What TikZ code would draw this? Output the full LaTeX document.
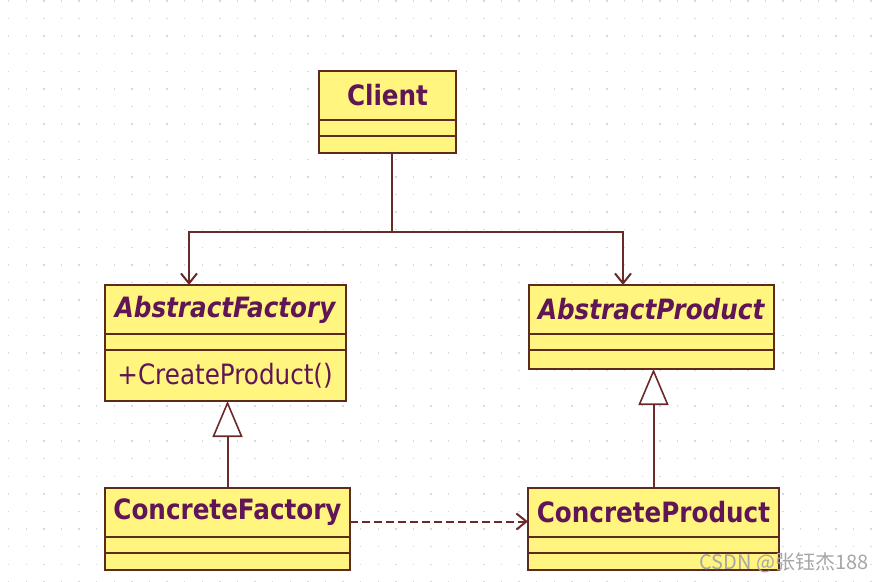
\documentclass[tikz,border=0pt]{standalone}
\usepackage{fontspec}
\setmainfont{DejaVu Sans}[FakeStretch=0.88]
\newfontfamily\cjk{Noto Sans CJK SC}
\usetikzlibrary{positioning, arrows.meta}

\definecolor{classfill}{HTML}{FFF57F}
\definecolor{classdraw}{HTML}{5C2A1E}
\definecolor{classtext}{HTML}{601656}
\definecolor{linkcolor}{HTML}{6B2A2A}

\tikzstyle{namebox}=[draw=classdraw, fill=classfill, line width=1pt, minimum height=24.5pt,
	inner sep=0pt, outer sep=0pt, anchor=north west, text=classtext,
	font=\fontsize{14}{16}\selectfont\bfseries]
\tikzstyle{partbox}=[draw=classdraw, fill=classfill, line width=1pt, minimum height=8pt,
	inner sep=0pt, outer sep=0pt]
\tikzstyle{optext}=[inner sep=0pt, anchor=west, text=classtext, font=\fontsize{14}{16}\selectfont]
\tikzstyle{link}=[draw=linkcolor, line width=1pt]
\tikzstyle{assoc}=[link, -{Straight Barb[length=5pt, width=8pt]}]
\tikzstyle{inherit}=[link, -{Triangle[open, length=18pt, width=15pt, fill=white, line width=0.8pt]}]
\tikzstyle{depend}=[assoc, dash pattern=on 4pt off 2pt]
\tikzstyle{gridline}=[draw=gray!30, line width=0.7pt, dash pattern=on 0.7pt off 8.1pt, dash phase=-4pt]
\tikzstyle{watermark}=[inner sep=0pt, text=gray!70, font=\cjk\fontsize{10}{12}\selectfont]

\begin{document}
\begin{tikzpicture}[x=0.5pt, y=-0.5pt]
	\useasboundingbox (0,0) rectangle (882,582);
	% dotted background
	\foreach \py in {1,18.6,...,582}
		\draw[gridline] (0,\py) -- (882,\py);
	% classes
	\foreach \px/\py/\name/\cw/\oh in {319/71/Client/68.5/8.5, 105/488/ConcreteFactory/122.5/8.5,
				528/488/ConcreteProduct/125.5/8.5} {
		\node[namebox, minimum width=\cw pt] (\name) at (\px,\py) {\name};
		\node[partbox, minimum width=\cw pt, below=0pt of \name] (\name-attr) {};
		\node[partbox, minimum width=\cw pt, minimum height=\oh pt, below=0pt of \name-attr] (\name-ops) {};
	}
	\foreach \px/\py/\name/\cw/\oh in {105/285/AbstractFactory/120.5/25.5, 529/285/AbstractProduct/122.5/9.5} {
		\node[namebox, minimum width=\cw pt] (\name) at (\px,\py) {\textit{\name}};
		\node[partbox, minimum width=\cw pt, below=0pt of \name] (\name-attr) {};
		\node[partbox, minimum width=\cw pt, minimum height=\oh pt, below=0pt of \name-attr] (\name-ops) {};
	}
	\node[optext] (CreateProduct) at ([xshift=6pt]AbstractFactory-ops.west) {+CreateProduct()};
	% connectors
	\coordinate (fork) at (392,232);
	\coordinate (forkleft) at (189,232);
	\coordinate (forkright) at (623,232);
	\path[link] (Client-ops.south -| fork) -- (fork);
	\path[assoc] (fork) -| (AbstractFactory.north -| forkleft);
	\path[assoc] (fork) -| (AbstractProduct.north -| forkright);
	\path[inherit] (ConcreteFactory.north) -- (ConcreteFactory.north |- AbstractFactory-ops.south);
	\path[inherit] (ConcreteProduct.north) -- (ConcreteProduct.north |- AbstractProduct-ops.south);
	\path[depend] ([yshift=-4.5pt]ConcreteFactory.east) -- ([yshift=-4.5pt]ConcreteProduct.west);
	\node[watermark] (csdn) at (784,563) {CSDN @张钰杰188};
\end{tikzpicture}
\end{document}
